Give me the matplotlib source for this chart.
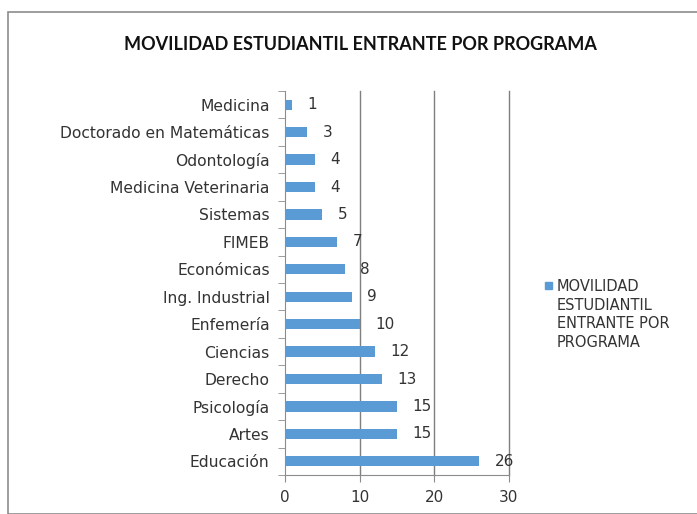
import matplotlib.pyplot as plt
from matplotlib.patches import Rectangle

programas = ['Educación', 'Artes', 'Psicología', 'Derecho', 'Ciencias', 'Enfemería',
             'Ing. Industrial', 'Económicas', 'FIMEB', 'Sistemas', 'Medicina Veterinaria',
             'Odontología', 'Doctorado en Matemáticas', 'Medicina']
valores = [26, 15, 15, 13, 12, 10, 9, 8, 7, 5, 4, 4, 3, 1]
xticks = [0, 10, 20, 30]
serie = 'MOVILIDAD\nESTUDIANTIL\nENTRANTE POR\nPROGRAMA'

plt.rcParams['font.family'] = ['DejaVu Sans']
azul = '#5b9bd5'
texto = '#333333'
gris = '#8c8c8c'

fig = plt.figure(figsize=(6.97, 5.14), dpi=100)
fig.patches.append(Rectangle((8 / 697, 0), 1, 1 - 12 / 514, transform=fig.transFigure,
                             fill=False, edgecolor=gris, linewidth=1.2))

ax = fig.add_axes([285 / 697, 1 - 475 / 514, 224 / 697, (475 - 91) / 514])
pos = list(range(len(programas)))
ax.barh(pos, valores, height=0.38, color=azul, zorder=3)

for p, v in zip(pos, valores):
    ax.annotate(str(v), (v, p), xytext=(11, 0), textcoords='offset points',
                ha='left', va='center', fontsize=11, color=texto)

ax.set_xlim(0, 30)
ax.set_ylim(-0.5, len(programas) - 0.5)
ax.set_xticks(xticks)
ax.set_yticks(pos)
ax.set_yticklabels(programas)
ax.set_yticks([p - 0.5 for p in pos] + [len(programas) - 0.5], minor=True)
ax.tick_params(axis='y', which='major', length=0, pad=11, labelsize=11.2, labelcolor=texto)
ax.tick_params(axis='y', which='minor', length=5, color=gris, direction='out')
ax.tick_params(axis='x', length=5, color=gris, labelsize=11, labelcolor=texto, pad=6)
for t in xticks[1:]:
    ax.axvline(t, color='#7f7f7f', linewidth=1, zorder=0, clip_on=False)

for s in ['top', 'right']:
    ax.spines[s].set_visible(False)
ax.spines['left'].set_color(gris)
ax.spines['bottom'].set_color(gris)

fig.text(360 / 697, 1 - 44 / 514, 'MOVILIDAD ESTUDIANTIL ENTRANTE POR PROGRAMA',
         ha='center', va='center', fontsize=13, fontweight='bold', color='#111111',
         family='Lato')

# legend: square aligned with first line of the series name
fig.patches.append(Rectangle((545 / 697, 1 - 289 / 514), 7 / 697, 7 / 514,
                             transform=fig.transFigure, color=azul))
fig.text(557 / 697, 1 - 279 / 514, serie, ha='left', va='top', fontsize=10.5,
         color=texto, linespacing=1.3)

fig.savefig('out.png', dpi=100)
